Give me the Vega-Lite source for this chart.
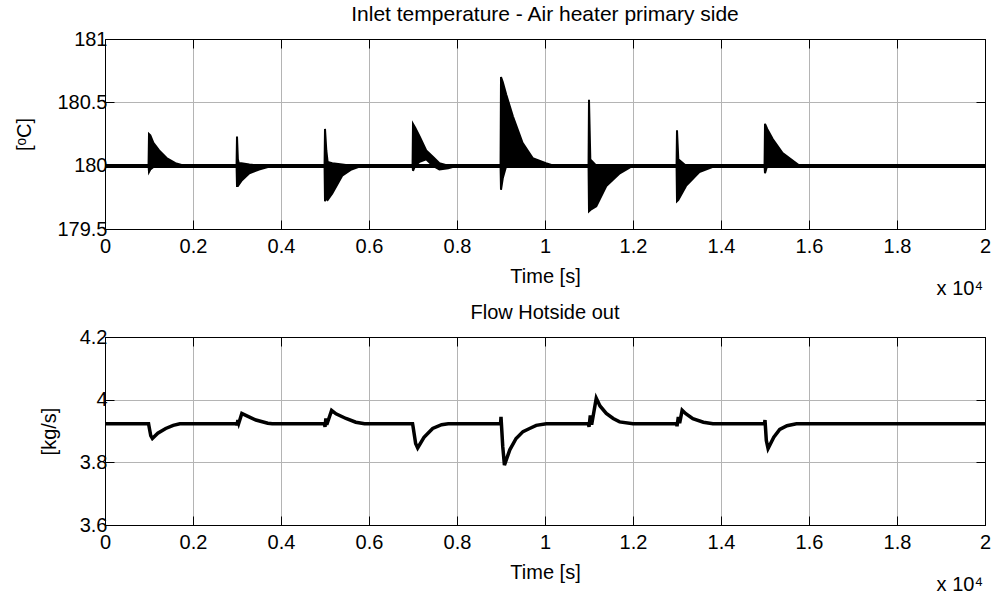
{
  "$schema": "https://vega.github.io/schema/vega-lite/v6.json",
  "padding": {"left": 14, "top": 3, "right": 4, "bottom": 5},
  "background": "white",
  "bounds": "flush",
  "spacing": 108,
  "config": {
    "font": "Liberation Sans",
    "view": {"stroke": "black", "strokeWidth": 1},
    "axis": {
      "labelFont": "Liberation Sans",
      "titleFont": "Liberation Sans",
      "labelFontSize": 20,
      "titleFontSize": 20,
      "titleFontWeight": "normal",
      "labelColor": "black",
      "titleColor": "black",
      "domainColor": "black",
      "tickColor": "black",
      "tickSize": -9,
      "gridColor": "#b4b4b4",
      "gridWidth": 1,
      "labelFlush": false,
      "labelOverlap": false,
      "labelBound": false
    },
    "title": {"font": "Liberation Sans", "fontSize": 20, "fontWeight": "normal", "color": "black", "offset": 4}
  },
  "datasets": {
    "temp": [
      {"t": 0, "lo": 180, "hi": 180},
      {"t": 990, "lo": 180, "hi": 180},
      {"t": 1000, "lo": 179.95, "hi": 180.25},
      {"t": 1030, "lo": 179.97, "hi": 180.24},
      {"t": 1100, "lo": 179.99, "hi": 180.18},
      {"t": 1230, "lo": 180.0, "hi": 180.12},
      {"t": 1400, "lo": 180.0, "hi": 180.06},
      {"t": 1600, "lo": 180.0, "hi": 180.02},
      {"t": 1800, "lo": 180, "hi": 180},
      {"t": 2990, "lo": 180, "hi": 180},
      {"t": 3000, "lo": 179.84, "hi": 180.23},
      {"t": 3020, "lo": 179.84, "hi": 180.05},
      {"t": 3040, "lo": 179.85, "hi": 180.02},
      {"t": 3100, "lo": 179.88, "hi": 180.02},
      {"t": 3280, "lo": 179.94, "hi": 180.01},
      {"t": 3500, "lo": 179.97, "hi": 180.0},
      {"t": 3800, "lo": 180, "hi": 180},
      {"t": 4990, "lo": 180, "hi": 180},
      {"t": 5000, "lo": 179.72, "hi": 180.29},
      {"t": 5030, "lo": 179.74, "hi": 180.12},
      {"t": 5060, "lo": 179.73, "hi": 180.03},
      {"t": 5165, "lo": 179.78, "hi": 180.02},
      {"t": 5390, "lo": 179.92, "hi": 180.01},
      {"t": 5600, "lo": 179.97, "hi": 180.0},
      {"t": 5850, "lo": 180, "hi": 180},
      {"t": 6990, "lo": 180, "hi": 180},
      {"t": 7000, "lo": 179.96, "hi": 180.33},
      {"t": 7050, "lo": 180.0, "hi": 180.30},
      {"t": 7150, "lo": 180.03, "hi": 180.23},
      {"t": 7300, "lo": 180.05, "hi": 180.12},
      {"t": 7450, "lo": 180.0, "hi": 180.07},
      {"t": 7600, "lo": 179.97, "hi": 180.02},
      {"t": 7800, "lo": 179.98, "hi": 180.0},
      {"t": 8000, "lo": 180, "hi": 180},
      {"t": 8990, "lo": 180, "hi": 180},
      {"t": 9000, "lo": 179.81, "hi": 180.70},
      {"t": 9040, "lo": 179.9, "hi": 180.66},
      {"t": 9120, "lo": 180.0, "hi": 180.56},
      {"t": 9270, "lo": 180.02, "hi": 180.39},
      {"t": 9490, "lo": 180.02, "hi": 180.18},
      {"t": 9720, "lo": 180.0, "hi": 180.06},
      {"t": 10020, "lo": 180, "hi": 180.02},
      {"t": 10200, "lo": 180, "hi": 180},
      {"t": 10990, "lo": 180, "hi": 180},
      {"t": 11000, "lo": 179.64, "hi": 180.52},
      {"t": 11030, "lo": 179.65, "hi": 180.05},
      {"t": 11165, "lo": 179.68, "hi": 180.0},
      {"t": 11393, "lo": 179.84, "hi": 180.0},
      {"t": 11700, "lo": 179.94, "hi": 180.0},
      {"t": 12000, "lo": 180, "hi": 180},
      {"t": 12990, "lo": 180, "hi": 180},
      {"t": 13000, "lo": 179.72, "hi": 180.28},
      {"t": 13030, "lo": 179.73, "hi": 180.05},
      {"t": 13205, "lo": 179.84, "hi": 180.0},
      {"t": 13508, "lo": 179.95, "hi": 180.0},
      {"t": 13890, "lo": 180, "hi": 180},
      {"t": 14990, "lo": 180, "hi": 180},
      {"t": 15000, "lo": 179.94, "hi": 180.33},
      {"t": 15050, "lo": 180.0, "hi": 180.29},
      {"t": 15175, "lo": 180.02, "hi": 180.21},
      {"t": 15400, "lo": 180.0, "hi": 180.1},
      {"t": 15780, "lo": 180, "hi": 180},
      {"t": 20000, "lo": 180, "hi": 180}
    ],
    "flow": [
      {"t": 0, "v": 3.923},
      {"t": 990, "v": 3.923},
      {"t": 1000, "v": 3.915},
      {"t": 1040, "v": 3.885},
      {"t": 1077, "v": 3.876},
      {"t": 1200, "v": 3.893},
      {"t": 1380, "v": 3.908},
      {"t": 1550, "v": 3.918},
      {"t": 1700, "v": 3.923},
      {"t": 2990, "v": 3.923},
      {"t": 3000, "v": 3.918},
      {"t": 3020, "v": 3.935},
      {"t": 3040, "v": 3.925},
      {"t": 3110, "v": 3.956},
      {"t": 3200, "v": 3.95},
      {"t": 3430, "v": 3.935},
      {"t": 3700, "v": 3.925},
      {"t": 3800, "v": 3.923},
      {"t": 4990, "v": 3.923},
      {"t": 5000, "v": 3.913},
      {"t": 5020, "v": 3.94},
      {"t": 5040, "v": 3.92},
      {"t": 5150, "v": 3.966},
      {"t": 5250, "v": 3.955},
      {"t": 5476, "v": 3.94},
      {"t": 5700, "v": 3.928},
      {"t": 5900, "v": 3.923},
      {"t": 6990, "v": 3.923},
      {"t": 7000, "v": 3.915},
      {"t": 7060, "v": 3.86},
      {"t": 7106, "v": 3.846},
      {"t": 7250, "v": 3.88},
      {"t": 7447, "v": 3.908},
      {"t": 7650, "v": 3.92},
      {"t": 7800, "v": 3.923},
      {"t": 8990, "v": 3.923},
      {"t": 9000, "v": 3.945},
      {"t": 9040, "v": 3.85},
      {"t": 9078, "v": 3.791},
      {"t": 9200, "v": 3.84},
      {"t": 9343, "v": 3.876},
      {"t": 9500, "v": 3.898},
      {"t": 9650, "v": 3.908},
      {"t": 9800, "v": 3.918},
      {"t": 10030, "v": 3.923},
      {"t": 10990, "v": 3.923},
      {"t": 11000, "v": 3.913},
      {"t": 11030, "v": 3.95},
      {"t": 11060, "v": 3.92},
      {"t": 11165, "v": 4.005},
      {"t": 11250, "v": 3.98},
      {"t": 11393, "v": 3.956},
      {"t": 11550, "v": 3.94},
      {"t": 11696, "v": 3.929},
      {"t": 12000, "v": 3.923},
      {"t": 12990, "v": 3.923},
      {"t": 13000, "v": 3.915},
      {"t": 13030, "v": 3.945},
      {"t": 13060, "v": 3.925},
      {"t": 13117, "v": 3.966},
      {"t": 13200, "v": 3.955},
      {"t": 13360, "v": 3.939},
      {"t": 13600, "v": 3.928},
      {"t": 13816, "v": 3.923},
      {"t": 14990, "v": 3.923},
      {"t": 15000, "v": 3.935},
      {"t": 15030, "v": 3.87},
      {"t": 15070, "v": 3.844},
      {"t": 15200, "v": 3.88},
      {"t": 15335, "v": 3.905},
      {"t": 15500, "v": 3.917},
      {"t": 15715, "v": 3.923},
      {"t": 20000, "v": 3.923}
    ],
    "note": [{"label": "x 10⁴"}]
  },
  "vconcat": [
    {
      "title": {"text": "Inlet temperature - Air heater primary side", "fontSize": 21},
      "width": 880,
      "height": 190,
      "data": {"name": "temp"},
      "layer": [
        {
          "mark": {"type": "area", "color": "black", "stroke": "black", "strokeWidth": 2},
          "encoding": {
            "x": {"field": "t", "type": "quantitative",
                  "scale": {"domain": [0, 20000], "nice": false, "zero": false},
                  "axis": {"orient": "bottom", "values": [0,2000,4000,6000,8000,10000,12000,14000,16000,18000,20000],
                           "labelExpr": "'' + datum.value/10000", "title": "Time [s]", "labelPadding": 16, "titlePadding": 10}},
            "y": {"field": "lo", "type": "quantitative",
                  "scale": {"domain": [179.5, 181], "nice": false, "zero": false},
                  "axis": {"orient": "left", "values": [179.5, 180, 180.5, 181], "format": ".1~f",
                           "title": "[ᵒC]", "labelPadding": 7, "titlePadding": 22}},
            "y2": {"field": "hi"}
          }
        },
        {
          "mark": {"type": "rule", "color": "black", "strokeWidth": 3.5},
          "encoding": {"y": {"datum": 180, "axis": null}}
        },
        {
          "mark": {"type": "point", "opacity": 0},
          "encoding": {
            "x": {"field": "t", "type": "quantitative",
                  "scale": {"domain": [0, 20000], "nice": false, "zero": false},
                  "axis": {"orient": "top", "values": [0,2000,4000,6000,8000,10000,12000,14000,16000,18000,20000],
                           "labels": false, "grid": false, "title": null}},
            "y": {"field": "lo", "type": "quantitative",
                  "scale": {"domain": [179.5, 181], "nice": false, "zero": false},
                  "axis": {"orient": "right", "values": [179.5, 180, 180.5, 181], "labels": false, "grid": false, "title": null}}
          }
        },
        {
          "data": {"name": "note"},
          "mark": {"type": "text", "align": "right", "baseline": "alphabetic", "fontSize": 20, "font": "Liberation Sans", "dy": 66, "dx": -2, "color": "black"},
          "encoding": {"text": {"field": "label"}, "x": {"datum": 20000, "axis": null}, "y": {"datum": 179.5, "axis": null}}
        }
      ]
    },
    {
      "title": "Flow Hotside out",
      "width": 880,
      "height": 188,
      "data": {"name": "flow"},
      "layer": [
        {
          "mark": {"type": "line", "color": "black", "strokeWidth": 3.5},
          "encoding": {
            "x": {"field": "t", "type": "quantitative",
                  "scale": {"domain": [0, 20000], "nice": false, "zero": false},
                  "axis": {"orient": "bottom", "values": [0,2000,4000,6000,8000,10000,12000,14000,16000,18000,20000],
                           "labelExpr": "'' + datum.value/10000", "title": "Time [s]", "labelPadding": 16, "titlePadding": 10}},
            "y": {"field": "v", "type": "quantitative",
                  "scale": {"domain": [3.6, 4.2], "nice": false, "zero": false},
                  "axis": {"orient": "left", "values": [3.6, 3.8, 4.0, 4.2], "format": ".1~f",
                           "title": "[kg/s]", "labelPadding": 7, "titlePadding": 20}}
          }
        },
        {
          "mark": {"type": "point", "opacity": 0},
          "encoding": {
            "x": {"field": "t", "type": "quantitative",
                  "scale": {"domain": [0, 20000], "nice": false, "zero": false},
                  "axis": {"orient": "top", "values": [0,2000,4000,6000,8000,10000,12000,14000,16000,18000,20000],
                           "labels": false, "grid": false, "title": null}},
            "y": {"field": "v", "type": "quantitative",
                  "scale": {"domain": [3.6, 4.2], "nice": false, "zero": false},
                  "axis": {"orient": "right", "values": [3.6, 3.8, 4.0, 4.2], "labels": false, "grid": false, "title": null}}
          }
        },
        {
          "data": {"name": "note"},
          "mark": {"type": "text", "align": "right", "baseline": "alphabetic", "fontSize": 20, "font": "Liberation Sans", "dy": 66, "dx": -2, "color": "black"},
          "encoding": {"text": {"field": "label"}, "x": {"datum": 20000, "axis": null}, "y": {"datum": 3.6, "axis": null}}
        }
      ]
    }
  ]
}
